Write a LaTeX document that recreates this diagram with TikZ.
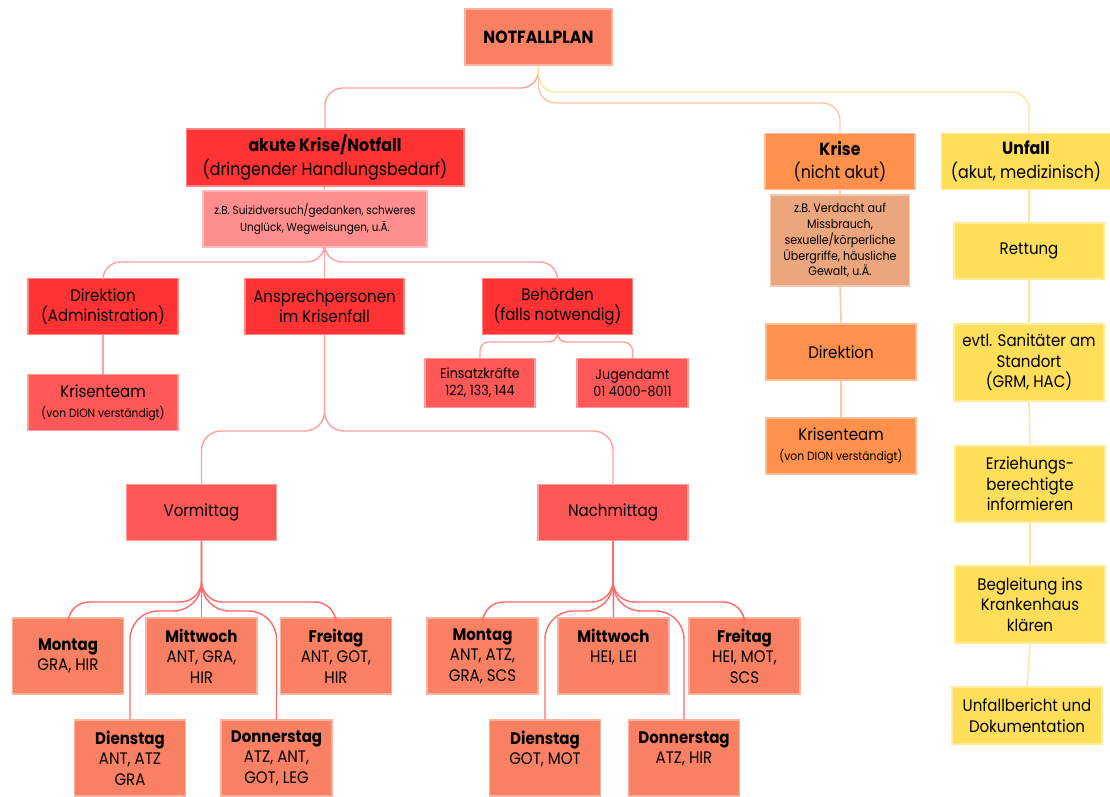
\documentclass[tikz,border=0pt]{standalone}
\usepackage{fontspec}
\setmainfont{Poppins}[FakeStretch=0.9]
\usepackage{tikz}
\definecolor{salmon}{RGB}{249,128,98}
\definecolor{alarmred}{RGB}{255,51,51}
\definecolor{softred}{RGB}{255,88,88}
\definecolor{rose}{RGB}{255,142,142}
\definecolor{crisisorange}{RGB}{255,145,77}
\definecolor{tan}{RGB}{236,166,126}
\definecolor{sun}{RGB}{255,222,89}
\definecolor{redline}{RGB}{255,105,105}
\definecolor{pinkline}{RGB}{255,160,160}
\definecolor{orangeline}{RGB}{255,200,165}
\definecolor{yellowline}{RGB}{255,228,160}
\tikzset{box/.style = {fill = #1, draw = #1!60!white, line width = 0.6pt,
                       align = center, inner sep = 2pt, text = black,
                       font = \fontsize{9.5}{11.6}\selectfont}}
\tikzset{headtext/.style = {font = \fontsize{10}{13.4}\selectfont}}
\tikzset{smalltext/.style = {font = \fontsize{6.6}{9.8}\selectfont}}
\tikzset{wide/.style = {minimum width = 3cm, minimum height = 1.12cm}}
\tikzset{day/.style = {box = salmon, minimum width = 2.22cm, minimum height = 1.52cm}}
\tikzset{link/.style = {draw = #1, line width = 0.8pt, rounded corners = 10pt}}
\newcommand{\notelabel}[1]{{\fontsize{6.8}{9}\selectfont #1}}

\begin{document}
\begin{tikzpicture}[x = 0.02cm, y = -0.02cm]
    \fill [white] (0, 0) rectangle (1110, 796);
    \useasboundingbox (0, 0) rectangle (1110, 796);

    \node [box = salmon, minimum width = 2.94cm, minimum height = 1.12cm,
           font = \fontsize{10}{12}\selectfont\bfseries] (plan) at (538.5, 37) {NOTFALLPLAN};

    \node [box = alarmred, headtext, minimum width = 5.56cm, minimum height = 1.14cm]
        (acute) at (325, 157.5) {\textbf{akute Krise/Notfall}\\(dringender Handlungsbedarf)};
    \node [box = rose, smalltext, minimum width = 4.48cm, minimum height = 1.12cm]
        (acutenote) at (315, 219) {z.B. Suizidversuch/gedanken, schweres\\Unglück, Wegweisungen, u.Ä.};
    \node [box = alarmred, wide] (leadL) at (103, 306.5) {Direktion\\(Administration)};
    \node [box = alarmred, wide, minimum width = 3.18cm] (contact) at (324.5, 306.5) {Ansprechpersonen\\im Krisenfall};
    \node [box = alarmred, wide] (office) at (557.5, 306.5) {Behörden\\(falls notwendig)};
    \node [box = softred, minimum width = 2.2cm, minimum height = 0.98cm,
           font = \fontsize{8}{9.6}\selectfont] (rescue) at (480, 383) {Einsatzkräfte\\122, 133, 144};
    \node [box = softred, minimum width = 2.22cm, minimum height = 0.98cm,
           font = \fontsize{8}{9.6}\selectfont] (youth) at (632.5, 383) {Jugendamt\\01 4000-8011};
    \node [box = softred, wide] (teamL) at (103, 402.5) {Krisenteam\\\notelabel{(von DION verständigt)}};

    \node [box = softred, wide] (morning) at (201.5, 512.5) {Vormittag};
    \node [box = softred, wide] (afternoon) at (613, 512.5) {Nachmittag};

    \node [day] (amMon) at (68, 656) {\textbf{Montag}\\GRA, HIR};
    \node [day] (amWed) at (201.5, 656) {\textbf{Mittwoch}\\ANT, GRA,\\HIR};
    \node [day] (amFri) at (336, 656) {\textbf{Freitag}\\ANT, GOT,\\HIR};
    \node [day] (amTue) at (130, 758) {\textbf{Dienstag}\\ANT, ATZ\\GRA};
    \node [day] (amThu) at (276.5, 758) {\textbf{Donnerstag}\\ATZ, ANT,\\GOT, LEG};

    \node [day] (pmMon) at (482.5, 656) {\textbf{Montag}\\ANT, ATZ,\\GRA, SCS};
    \node [day] (pmWed) at (613.5, 656) {\textbf{Mittwoch}\\HEI, LEI\\~};
    \node [day] (pmFri) at (744.5, 656) {\textbf{Freitag}\\HEI, MOT,\\SCS};
    \node [day] (pmTue) at (545, 758) {\textbf{Dienstag}\\GOT, MOT\\~};
    \node [day] (pmThu) at (684, 758) {\textbf{Donnerstag}\\ATZ, HIR\\~};

    \node [box = crisisorange, headtext, wide] (crisis) at (840, 161.5) {\textbf{Krise}\\(nicht akut)};
    \node [box = tan, minimum width = 2.78cm, minimum height = 1.82cm,
           font = \fontsize{7}{9}\selectfont] (crisisnote) at (840, 240.5)
        {z.B. Verdacht auf\\Missbrauch,\\sexuelle/körperliche\\Übergriffe, häusliche\\Gewalt, u.Ä.};
    \node [box = crisisorange, wide] (leadR) at (841, 352) {Direktion};
    \node [box = crisisorange, wide] (teamR) at (841, 446) {Krisenteam\\\notelabel{(von DION verständigt)}};

    \node [box = sun, headtext, minimum width = 3.38cm, minimum height = 1.12cm]
        (accident) at (1026, 161.5) {\textbf{Unfall}\\(akut, medizinisch)};
    \node [box = sun, wide] (ambulance) at (1029, 251) {Rettung};
    \node [box = sun, wide, minimum height = 1.54cm] (medic) at (1029, 362.5) {evtl. Sanitäter am\\Standort\\(GRM, HAC)};
    \node [box = sun, wide, minimum height = 1.52cm] (parents) at (1030, 484) {Erziehungs-\\berechtigte\\informieren};
    \node [box = sun, wide, minimum height = 1.54cm] (hospital) at (1030, 604.5) {Begleitung ins\\Krankenhaus\\klären};
    \node [box = sun, wide, minimum height = 1.14cm] (report) at (1027, 715.5) {Unfallbericht und\\Dokumentation};

    \draw [link = pinkline] (plan.south) |- (acute.north |- 0, 88) -- (acute.north);
    \draw [link = orangeline] (plan.south) |- (crisis.north |- 0, 103) -- (crisis.north);
    \draw [link = yellowline] (plan.south) |- (ambulance.north |- 0, 92) -- (ambulance.north |- accident.north);

    \draw [link = pinkline] (contact.north |- acute.south) -- (contact.north |- acutenote.north);
    \draw [link = pinkline] (contact.north |- acutenote.south) |- (leadL.north |- 0, 262) -- (leadL.north);
    \draw [link = pinkline] (contact.north |- acutenote.south) -- (contact.north);
    \draw [link = pinkline] (contact.north |- acutenote.south) |- (office.north |- 0, 262) -- (office.north);
    \draw [link = pinkline] (leadL.south) -- (teamL.north);
    \draw [link = pinkline, rounded corners = 5pt] (office.south) |- (rescue.north |- 0, 342) -- (rescue.north);
    \draw [link = pinkline, rounded corners = 5pt] (office.south) |- (youth.north |- 0, 342) -- (youth.north);

    \draw [link = pinkline, rounded corners = 11pt] (contact.south) |- (morning.north |- 0, 431) -- (morning.north);
    \draw [link = pinkline, rounded corners = 11pt] (contact.south) |- (afternoon.north |- 0, 431) -- (afternoon.north);

    \foreach \half/\mon/\tue/\wed/\thu/\fri in {morning/amMon/amTue/amWed/amThu/amFri,
                                                 afternoon/pmMon/pmTue/pmWed/pmThu/pmFri} {
        \draw [link = redline, rounded corners = 12pt] (\half.south) |- (\mon.north |- 0, 602) -- (\mon.north);
        \draw [link = redline, rounded corners = 12pt] (\half.south) |- (\fri.north |- 0, 602) -- (\fri.north);
        \draw [link = redline, rounded corners = 16pt] (\half.south) |- (\tue.north |- 0, 611) -- (\tue.north);
        \draw [link = redline, rounded corners = 16pt] (\half.south) |- (\thu.north |- 0, 611) -- (\thu.north);
        \draw [link = redline] (\half.south) -- (\wed.north);
    }

    \draw [link = orangeline] (crisis.south) -- (crisisnote.north);
    \draw [link = orangeline] (crisisnote.south) -- (leadR.north);
    \draw [link = orangeline] (leadR.south) -- (teamR.north);

    \draw [link = yellowline] (ambulance.north |- accident.south) -- (ambulance.north);
    \draw [link = yellowline] (ambulance.south) -- (medic.north);
    \draw [link = yellowline] (medic.south) -- (parents.north);
    \draw [link = yellowline] (parents.south) -- (hospital.north);
    \draw [link = yellowline] (hospital.south) -- (report.north);
\end{tikzpicture}
\end{document}
